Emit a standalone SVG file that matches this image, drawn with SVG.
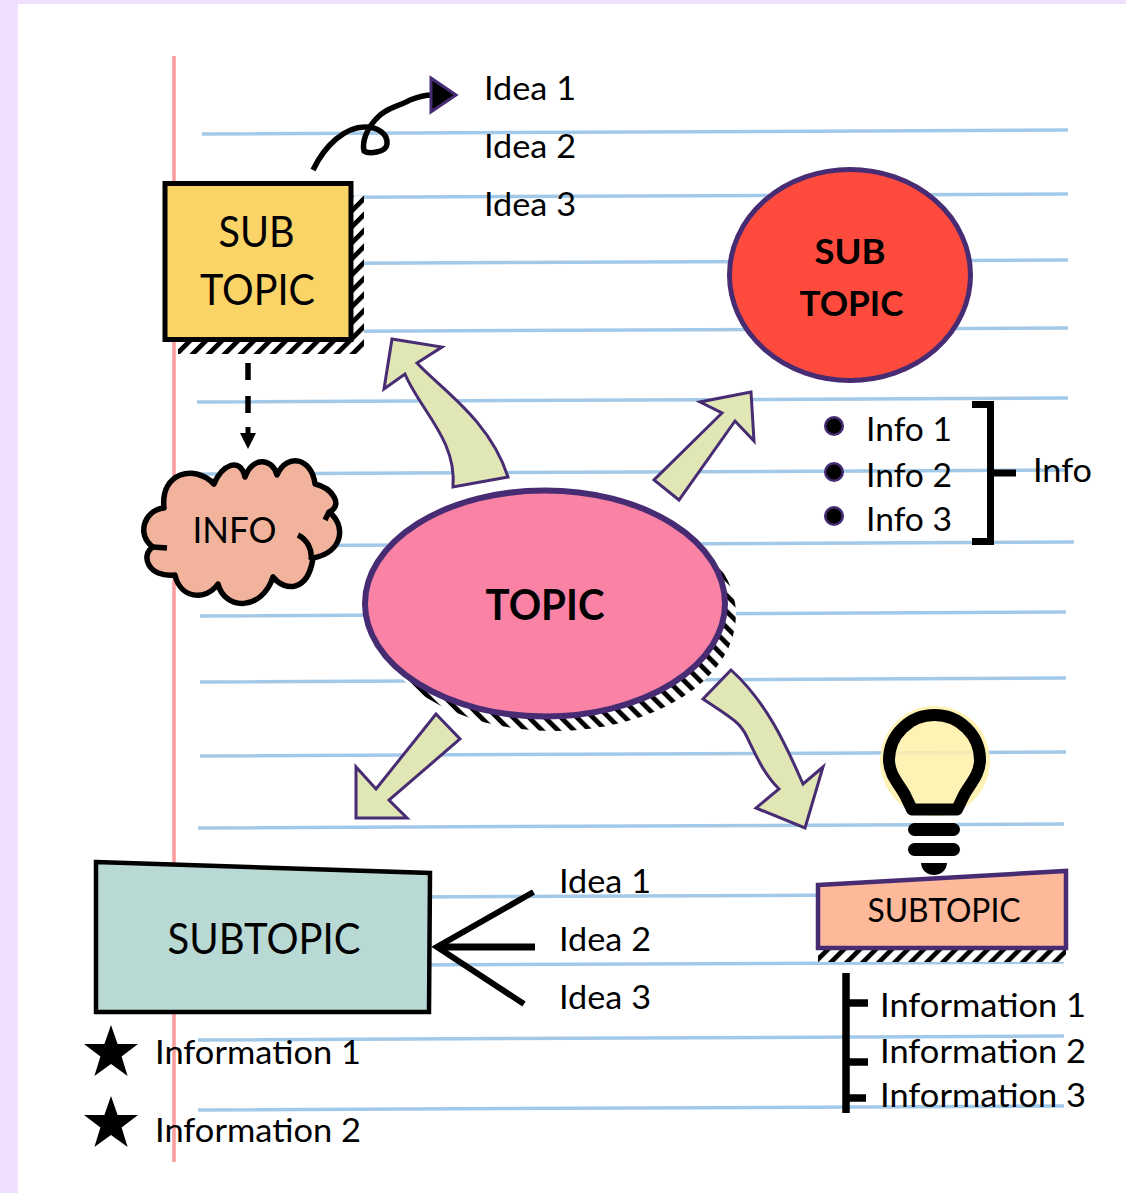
<svg xmlns="http://www.w3.org/2000/svg" width="1126" height="1193" viewBox="0 0 1126 1193">
<style>
text{font-family:"Lato","Carlito","Liberation Sans",sans-serif;fill:#000}
.rule{stroke:#a3c9e8;stroke-width:3.5;fill:none}
.arrow{fill:#e1e7b4;stroke:#472c74;stroke-width:3;stroke-linejoin:miter}
.t34{font-size:33.5px}
.t42{font-size:42px}
.b{font-weight:700}
.line{stroke:#000;fill:none}
.dot{fill:#000;stroke:#472c74;stroke-width:2.5}
</style>
<defs>
<pattern id="hatchA" width="11.3" height="11.3" patternUnits="userSpaceOnUse" patternTransform="rotate(45)">
<rect width="11.3" height="11.3" fill="#fff"/><rect width="4.800" height="11.3" fill="#000"/>
</pattern>
<pattern id="hatchB" width="11.3" height="11.3" patternUnits="userSpaceOnUse" patternTransform="rotate(-45)">
<rect width="11.3" height="11.3" fill="#fff"/><rect width="4.800" height="11.3" fill="#000"/>
</pattern>
<polygon id="star" points="0,-28 6.6,-8.9 27,-8.9 10.6,3.4 16.6,23 0,11 -16.6,23 -10.6,3.4 -27,-8.9 -6.6,-8.9" fill="#000"/>
</defs>
<rect width="1126" height="1193" fill="#f0e0fe"/>
<rect x="18" y="4" width="1108" height="1189" fill="#fff"/>
<g id="paper-lines">
<path class="rule" d="M202 134L1068 130M202 198L1068 194M202 264L1068 260M202 332L1068 328M197 402L1068 398M197 474L1068 470M197 546L1074 542M200 616L1066 612M200 682L1066 678M200 756L1066 752M198 828L1064 824M198 898L1064 894M198 966L1064 962M198 1040L1064 1036M198 1110L1064 1106"/>
<path d="M174 56V1162" stroke="#fb9a9a" stroke-width="3.5"/>
</g>
<g id="connectors">
<path class="arrow" d="M392 339L442 347L417 363C440 388 490 420 508 477L453 487C457 440 420 410 405 374L384 389Z"/>
<path class="arrow" d="M751 392L700 402L722 413L654 480L679 500L735 421L754 441Z"/>
<path class="arrow" d="M436 714L460 739L389 800L407 818L356 818L356 767L376 789Z"/>
<path class="arrow" d="M731 670L703 699C730 717 740 722 747 737C758 760 765 775 779 789L756 808L805 828L823 767L803 784C790 755 770 705 731 670Z"/>
<path class="line" d="M313 170C325 145 345 127 365 127C378 127 388 134 387 144C386 153 368 154 364 151C362 142 366 130 376 119C385 108 400 106 410 100C420 96 425 95 432 95" stroke-width="5.500"/>
<polygon points="431,78 456,95 431,112" fill="#000" stroke="#472c74" stroke-width="3"/>
<path class="line" d="M248 363V418" stroke-width="5.500" stroke-dasharray="17 16"/>
<path d="M245.500 427H250.500V433H256L248 449L240 433H245.500Z" fill="#000"/>
<path class="line" d="M533.500 892L437 947L524 1004" stroke-width="6"/>
<path class="line" d="M437 947H535" stroke-width="7"/>
<path class="line" d="M972 404.500H990.500V541.500H972M990.500 473H1016" stroke-width="7"/>
<path class="line" d="M846 973V1113M846 1003H868M846 1062H868M846 1098H866" stroke-width="7.500"/>
</g>
<g id="sub-topic-square">
<rect x="178" y="196" width="186" height="158" fill="url(#hatchA)"/>
<rect x="165" y="183.500" width="186" height="156" fill="#fbd467" stroke="#000" stroke-width="5"/>
<text x="218.500" y="247" class="t42" textLength="76" lengthAdjust="spacingAndGlyphs">SUB</text>
<text x="200" y="305" class="t42" textLength="115" lengthAdjust="spacingAndGlyphs">TOPIC</text>
</g>
<g id="sub-topic-circle">
<ellipse cx="850" cy="275" rx="120.500" ry="105.500" fill="#ff4b3e" stroke="#472c74" stroke-width="5"/>
<text x="814.500" y="263.500" font-size="35" class="b" textLength="71" lengthAdjust="spacingAndGlyphs">SUB</text>
<text x="799.500" y="315.500" font-size="35" class="b" textLength="104" lengthAdjust="spacingAndGlyphs">TOPIC</text>
</g>
<g id="topic">
<ellipse cx="554" cy="615" rx="182" ry="116" fill="url(#hatchB)"/>
<ellipse cx="545" cy="603.500" rx="180" ry="113" fill="#fa82a5" stroke="#472c74" stroke-width="6"/>
<text x="485.500" y="619.500" font-size="42" class="b" textLength="119" lengthAdjust="spacingAndGlyphs">TOPIC</text>
</g>
<g id="info-cloud">
<path d="M164 508C160 472 195 464 214 484C222 465 240 456 245 477C252 457 272 457 277 475C287 452 312 458 315 484C332 488 344 505 329 512C346 525 344 552 313 558C308 592 285 592 273 577C262 611 225 611 218 584C205 602 180 598 175 575C148 578 140 555 153 547C136 535 144 510 164 508Z" fill="#f2b39c" stroke="#000" stroke-width="5.500" stroke-linejoin="round"/>
<path d="M298 535A24 24 0 0 1 311 560M329 512L325 520M153 547L167 548M214 484L211 480" fill="none" stroke="#000" stroke-width="5.500"/>
<text x="192.500" y="543" font-size="36" textLength="84" lengthAdjust="spacingAndGlyphs">INFO</text>
</g>
<g id="subtopic-teal">
<polygon points="96,862 430,873 429,1012 96,1012" fill="#b9d9d5" stroke="#000" stroke-width="4.500"/>
<text x="167.500" y="954" class="t42" textLength="193" lengthAdjust="spacingAndGlyphs">SUBTOPIC</text>
</g>
<g id="bulb">
<circle cx="935" cy="761" r="55" fill="#fff0a8" fill-opacity=".85"/>
<path d="M912 809.500L905 795C900 785 889 775 889 760A45.500 45 0 0 1 980 760C980 775 969 785 964 795L957 809.500Z" fill="none" stroke="#000" stroke-width="12" stroke-linejoin="round"/>
<rect x="908" y="823" width="52" height="13" rx="6.500"/>
<rect x="908" y="843" width="52" height="13" rx="6.500"/>
<path d="M921 863H947C946 879 922 879 921 863Z"/>
</g>
<g id="subtopic-orange">
<rect x="818" y="950" width="248" height="12" fill="url(#hatchA)"/>
<polygon points="818,885 1066,871 1066,948 818,948" fill="#fdb99a" stroke="#472c74" stroke-width="4.500"/>
<text x="867.500" y="922" font-size="33" textLength="153" lengthAdjust="spacingAndGlyphs">SUBTOPIC</text>
</g>
<g id="ideas-top">
<text x="484" y="100" class="t34" textLength="92" lengthAdjust="spacingAndGlyphs">Idea 1</text>
<text x="484" y="158" class="t34" textLength="92" lengthAdjust="spacingAndGlyphs">Idea 2</text>
<text x="484" y="216" class="t34" textLength="92" lengthAdjust="spacingAndGlyphs">Idea 3</text>
</g>
<g id="info-list">
<circle class="dot" cx="834" cy="426" r="8.800"/>
<circle class="dot" cx="834" cy="472" r="8.800"/>
<circle class="dot" cx="834" cy="516" r="8.800"/>
<text x="866" y="441" class="t34" textLength="86" lengthAdjust="spacingAndGlyphs">Info 1</text>
<text x="866" y="487" class="t34" textLength="86" lengthAdjust="spacingAndGlyphs">Info 2</text>
<text x="866" y="531" class="t34" textLength="86" lengthAdjust="spacingAndGlyphs">Info 3</text>
<text x="1033" y="482" class="t34" textLength="59" lengthAdjust="spacingAndGlyphs">Info</text>
</g>
<g id="ideas-bottom">
<text x="559" y="893" class="t34" textLength="92" lengthAdjust="spacingAndGlyphs">Idea 1</text>
<text x="559" y="951" class="t34" textLength="92" lengthAdjust="spacingAndGlyphs">Idea 2</text>
<text x="559" y="1009" class="t34" textLength="92" lengthAdjust="spacingAndGlyphs">Idea 3</text>
</g>
<g id="information-right">
<text x="880" y="1017" class="t34" textLength="206" lengthAdjust="spacingAndGlyphs">Information 1</text>
<text x="880" y="1063" class="t34" textLength="206" lengthAdjust="spacingAndGlyphs">Information 2</text>
<text x="880" y="1107" class="t34" textLength="206" lengthAdjust="spacingAndGlyphs">Information 3</text>
</g>
<g id="information-left">
<use href="#star" x="111" y="1053"/>
<use href="#star" x="111" y="1124"/>
<text x="155" y="1064" class="t34" textLength="206" lengthAdjust="spacingAndGlyphs">Information 1</text>
<text x="155" y="1142" class="t34" textLength="206" lengthAdjust="spacingAndGlyphs">Information 2</text>
</g>
</svg>
